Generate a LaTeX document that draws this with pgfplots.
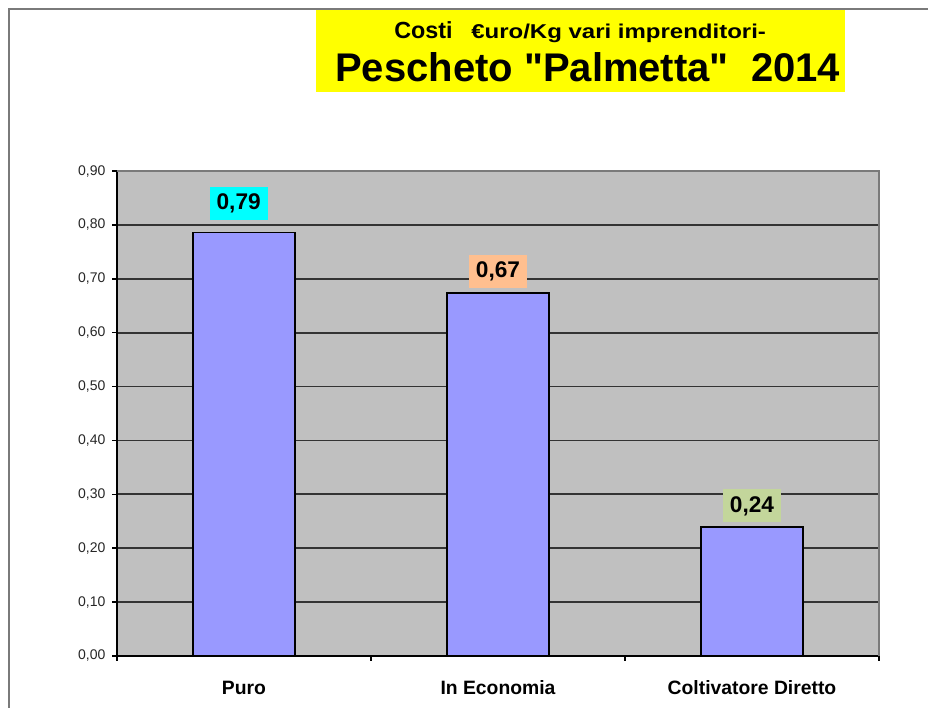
\documentclass[border=0pt]{standalone}
\usepackage{pgfplots}
\pgfplotsset{compat=1.18}
\usepackage{fontspec}
\setmainfont{Liberation Sans}[Ligatures=TeXOff]
\usepackage{graphicx}

\definecolor{barblue}{HTML}{9999FF}
\definecolor{plotgray}{HTML}{C0C0C0}
\definecolor{gridgray}{HTML}{333333}
\definecolor{framegray}{HTML}{7A7A7A}
\definecolor{titleyellow}{HTML}{FFFF00}
\definecolor{labcyan}{HTML}{00FFFF}
\definecolor{labpeach}{HTML}{FFBF8F}
\definecolor{labgreen}{HTML}{C3D69B}

\begin{document}
\begin{tikzpicture}[x=0.75pt,y=0.75pt]
\useasboundingbox (0,0) rectangle (928,708);

% outer frame and title box
\draw[framegray, line width=1.4pt] (928,699) -- (9,699) -- (9,0);
\fill[titleyellow] (316,616) rectangle (845,698);
\node[anchor=base west, inner sep=0pt] at (394,669) {\fontsize{17.5}{20}\selectfont\bfseries Costi};
\node[anchor=base west, inner sep=0pt] at (471,669) {\scalebox{1.2}[1]{\fontsize{15}{18}\selectfont\bfseries €uro/Kg vari imprenditori-}};
\node[anchor=base west, inner sep=0pt] at (335,626) {\fontsize{30}{36}\selectfont\bfseries Pescheto "Palmetta"\ \ 2014};

\begin{axis}[
  at={(87.75pt,39pt)}, anchor=south west,
  scale only axis, width=571.5pt, height=363.75pt,
  xmin=-0.5, xmax=2.5, ymin=0, ymax=0.9,
  axis background/.style={fill=plotgray},
  axis line style={draw=none},
  ytick={0,0.1,0.2,0.3,0.4,0.5,0.6,0.7,0.8},
  extra y ticks={0.9},
  extra y tick style={grid=none},
  ymajorgrids,
  major grid style={gridgray, line width=1.3pt},
  xtick={0,1,2},
  xticklabels={Puro, In Economia, Coltivatore Diretto},
  minor xtick={-0.5,0.5,1.5,2.5},
  tick pos=left, tick align=outside,
  major tick length=3.5pt, minor tick length=3.5pt,
  major x tick style={draw=none},
  every tick/.style={black, line width=1.1pt},
  minor x tick style={black, line width=1.1pt},
  /pgf/number format/use comma,
  /pgf/number format/fixed,
  /pgf/number format/fixed zerofill,
  /pgf/number format/precision=2,
  /pgf/number format/assume math mode=true,
  yticklabel style={font=\fontsize{10.5}{12}\selectfont, text=black!85, anchor=east, inner sep=0pt, xshift=-5pt},
  xticklabel style={font=\fontsize{14.5}{17}\selectfont\bfseries, anchor=base, inner sep=0pt, yshift=-25pt},
  every node near coord/.append style={font=\fontsize{17}{20}\selectfont\bfseries, text=black, inner sep=0pt, minimum width=43.5pt, minimum height=24.75pt, anchor=south},
  after end axis/.code={
    \draw[black, line width=1.1pt] (rel axis cs:0,1) -- (rel axis cs:0,0) -- (rel axis cs:1,0);
    \draw[framegray, line width=1pt] (rel axis cs:0,1) -- (rel axis cs:1,1) -- (rel axis cs:1,0);
  },
]
\addplot[ybar, bar width=0.4, bar shift=0pt, fill=barblue, draw=black, line width=1.1pt,
  nodes near coords, every node near coord/.append style={fill=labcyan, xshift=-4pt, yshift=9pt}]
  coordinates {(0,0.786)};
\addplot[ybar, bar width=0.4, bar shift=0pt, fill=barblue, draw=black, line width=1.1pt,
  nodes near coords, every node near coord/.append style={fill=labpeach, yshift=3pt}]
  coordinates {(1,0.674)};
\addplot[ybar, bar width=0.4, bar shift=0pt, fill=barblue, draw=black, line width=1.1pt,
  nodes near coords, every node near coord/.append style={fill=labgreen, yshift=3pt}]
  coordinates {(2,0.239)};
\end{axis}
\end{tikzpicture}
\end{document}
